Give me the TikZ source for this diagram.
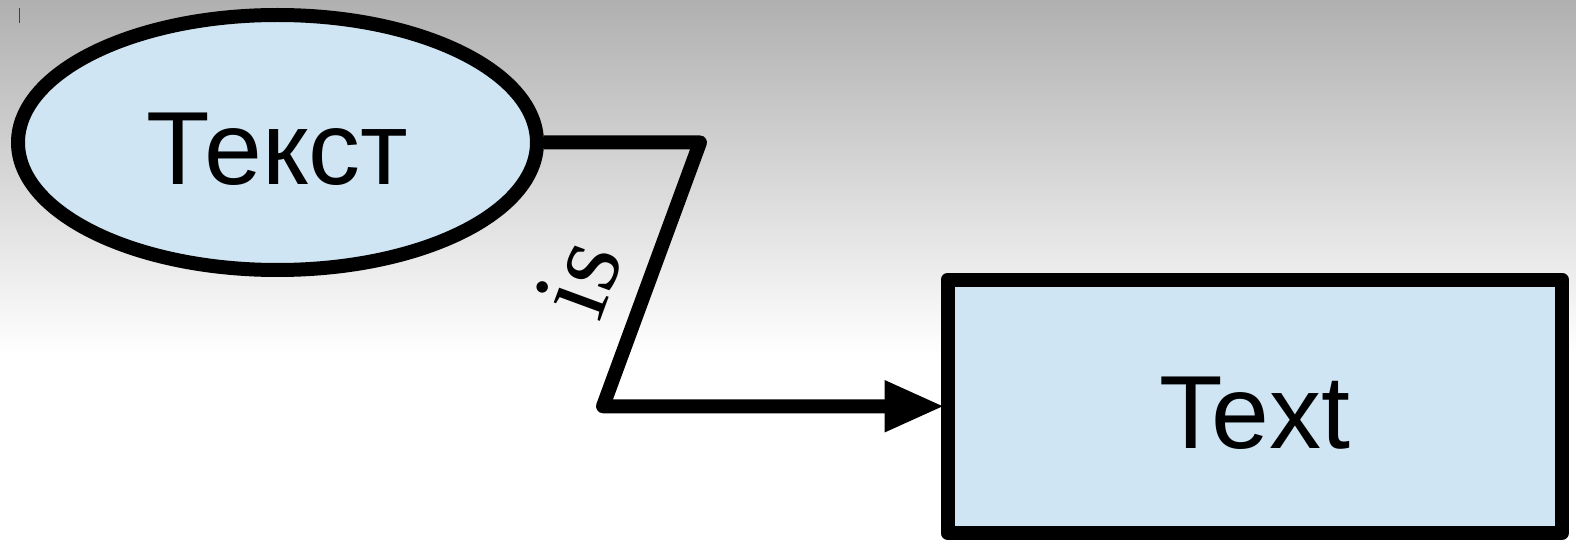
\documentclass[tikz,border=0pt]{standalone}
\usepackage{fontspec}
\setmainfont{Liberation Sans}
\newfontfamily\serifis{Liberation Serif}
\usetikzlibrary{shapes.geometric,arrows.meta}
\definecolor{nodefill}{RGB}{207,229,243}
\definecolor{bgtop}{RGB}{176,176,176}
\begin{document}
\begin{tikzpicture}[x=0.5pt,y=-0.5pt,
  box/.style={draw=black, line width=7pt, fill=nodefill, line join=round,
    inner sep=0pt, text height=42pt, text depth=0pt,
    font=\fontsize{52}{60}\selectfont},
  conn/.style={line width=7pt, line join=round, shorten >=-2pt,
    -{Triangle[length=30pt,width=24pt]}},
  lbl/.style={sloped, inner sep=0pt, font=\serifis\fontsize{54}{62}\selectfont}]
\useasboundingbox (0,0) rectangle (1576,540);
\shade[top color=bgtop, bottom color=white] (0,0) rectangle (1576,355);
\fill[white] (0,355) rectangle (1576,540);
\draw[line width=0.5pt, draw=black!75] (19.5,8) -- (19.5,23);
\node[ellipse, box, minimum width=259.5pt, minimum height=127.5pt] (src) at (277.5,142.5) {Текст};
\node[rectangle, box, minimum width=307.25pt, minimum height=126.75pt] (dst) at (1254.75,406.25) {Text};
\coordinate (c1) at (700,142.5);
\coordinate (c2) at (603,406.25);
\draw[conn] (src.east) -- (c1) -- node[lbl, pos=0.6, above=12pt] {is} (c2) -- (dst.west);
\end{tikzpicture}
\end{document}
